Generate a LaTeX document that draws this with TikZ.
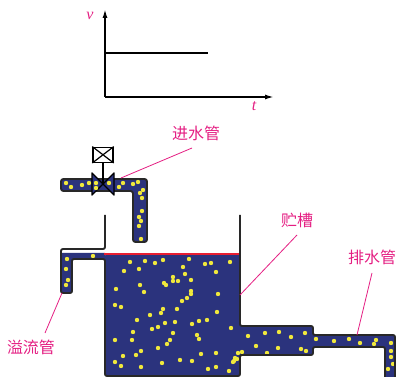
\documentclass[tikz,border=0pt]{standalone}
\usepackage{fontspec}
\newfontfamily\cjk{Noto Sans CJK SC}
\newfontfamily\varfont{Liberation Serif}
\usetikzlibrary{arrows.meta}
\definecolor{water}{RGB}{43,51,125}
\definecolor{bubble}{RGB}{240,232,60}
\definecolor{labelpink}{RGB}{228,30,130}
\definecolor{surface}{RGB}{232,30,50}
\definecolor{wall}{RGB}{40,40,40}
\tikzset{
  axis/.style={line width=1.6pt, black, -{Latex[length=9pt,width=5pt]}},
  pipewall/.style={line width=1.9pt, wall, line join=round},
  pipe/.style={pipewall, fill=water, rounded corners=2.5pt},
  leader/.style={labelpink, line width=0.8pt},
  cjklabel/.style={text=labelpink, font=\cjk\fontsize{16}{16}\selectfont, inner sep=0pt},
  varlabel/.style={text=labelpink, font=\varfont\itshape\fontsize{16}{16}\selectfont, inner sep=0pt},
}
\newcommand{\bubbles}[1]{\foreach \p in {#1} \fill[bubble] \p circle (2.2);}
\begin{document}
\begin{tikzpicture}[x=1pt,y=-1pt]
\useasboundingbox (0,0) rectangle (397,377);

% ---- velocity-time graph
\coordinate (O) at (105,97);
\draw[axis] (O) -- (105,9) coordinate (vtip);
\draw[axis] (O) -- (274,97) coordinate (ttip);
\draw[line width=1.6pt] (105,53) -- (208,53);
\node[varlabel] (vlab) at (90,16) {v};
\node[varlabel] (tlab) at (254,106) {t};

% ---- water in tank and outlet
\fill[water, rounded corners=2pt]
  (105,254) -- (240,254) -- (240,326) -- (313,326) -- (313,335) -- (395,335)
  -- (395,380) -- (385,380) -- (385,347) -- (313,347) -- (313,355) -- (240,355)
  -- (240,376) -- (105,376) -- cycle;
% water in overflow pipe
\fill[water] (61,253) -- (105,253) -- (105,259) -- (72,259) -- (72,293) -- (61,293) -- cycle;

% bubbles in the tank
\bubbles{(130,262),(145,261),(155,263),(163,260),(189,259),(205,264),(211,263),(230,262),
 (124,271),(139,269),(183,267),(216,272),(185,274),(173,277),(173,281),(178,281),(164,283),
 (166,285),(191,280),(140,285),(116,289),(144,292),(191,291),(191,294),(218,294),(187,298),
 (182,301),(115,305),(121,307),(163,309),(177,309),(161,313),(150,315),(217,312),(137,320),
 (165,323),(175,322),(192,324),(199,321),(207,320),(158,327),(152,329),(133,332),(173,333),
 (231,328),(197,335),(199,339),(115,340),(132,340),(170,340),(167,344),(158,348),(141,351),
 (123,356),(136,355),(201,354),(216,353),(238,353),(242,352),(180,360),(192,361),(115,362),
 (162,363),(121,366),(141,367),(208,369),(216,367),(229,371),(234,361),(237,359),(235,358),
 (233,362)}
% bubbles in the outlet
\bubbles{(248,336),(265,333),(279,332),(291,337),(305,333),(256,346),(278,348),(267,353),
 (301,349),(306,351),(316,339),(334,341),(349,339),(360,343),(376,340),(374,344),
 (391,343),(391,351),(391,357),(393,364),(388,369)}
% bubbles in the overflow pipe
\bubbles{(67,259),(66,269),(68,280),(66,285),(93,256)}

% free surface
\draw[surface, line width=1.6pt] (104,254) -- (240,254);

% ---- tank walls, overflow and outlet
\draw[pipewall, rounded corners=2pt]
  (105,215) -- (105,249) -- (61,249) -- (61,293) -- (72,293) -- (72,259) -- (105,259)
  -- (105,376) -- (240,376) -- (240,355) -- (313,355) -- (313,347) -- (385,347) -- (385,380);
\draw[pipewall, rounded corners=2pt]
  (240,215) -- (240,326) -- (313,326) -- (313,335) -- (395,335) -- (395,380);

% ---- inlet pipe
\draw[pipe] (61,179) -- (147,179) -- (147,242) -- (133,242) -- (133,191) -- (61,191) -- cycle;
\bubbles{(66,183),(71,187),(82,185),(119,187),(123,183),(133,184),(138,182),
 (140,193),(143,190),(142,198),(142,211),(139,217),(141,221),(139,226),(141,239)}

% ---- valve
\coordinate (vc) at (103,184);
\draw[line width=1.4pt] (103,163) -- (vc);
\node[draw, line width=1.4pt, fill=white, minimum width=20pt, minimum height=15pt,
  inner sep=0pt, anchor=south] (act) at (103,163) {};
\draw[line width=1.2pt] (act.north west) -- (act.south east) (act.south west) -- (act.north east);
\draw[line width=1.4pt, fill=water, line join=round]
  (92,173) -- (vc) -- (92,195) -- cycle (114,173) -- (vc) -- (114,195) -- cycle;
\bubbles{(96,183),(96,188),(109,183),(89,183)}

% ---- labels and leaders
\node[cjklabel] (inlbl) at (196,133) {进水管};
\coordinate (inend) at (121,178);
\draw[leader] (192,148) coordinate (instart) -- (inend);

\node[cjklabel] (tanklbl) at (297,220) {贮槽};
\coordinate (tankend) at (240,295);
\draw[leader] (297,235) coordinate (tankstart) -- (tankend);

\node[cjklabel] (outlbl) at (372,257) {排水管};
\coordinate (outend) at (357,335);
\draw[leader] (372,273) coordinate (outstart) -- (outend);

\node[cjklabel] (ovlbl) at (31,347) {溢流管};
\coordinate (ovend) at (62,293);
\draw[leader] (45,333) coordinate (ovstart) -- (ovend);
\end{tikzpicture}
\end{document}
